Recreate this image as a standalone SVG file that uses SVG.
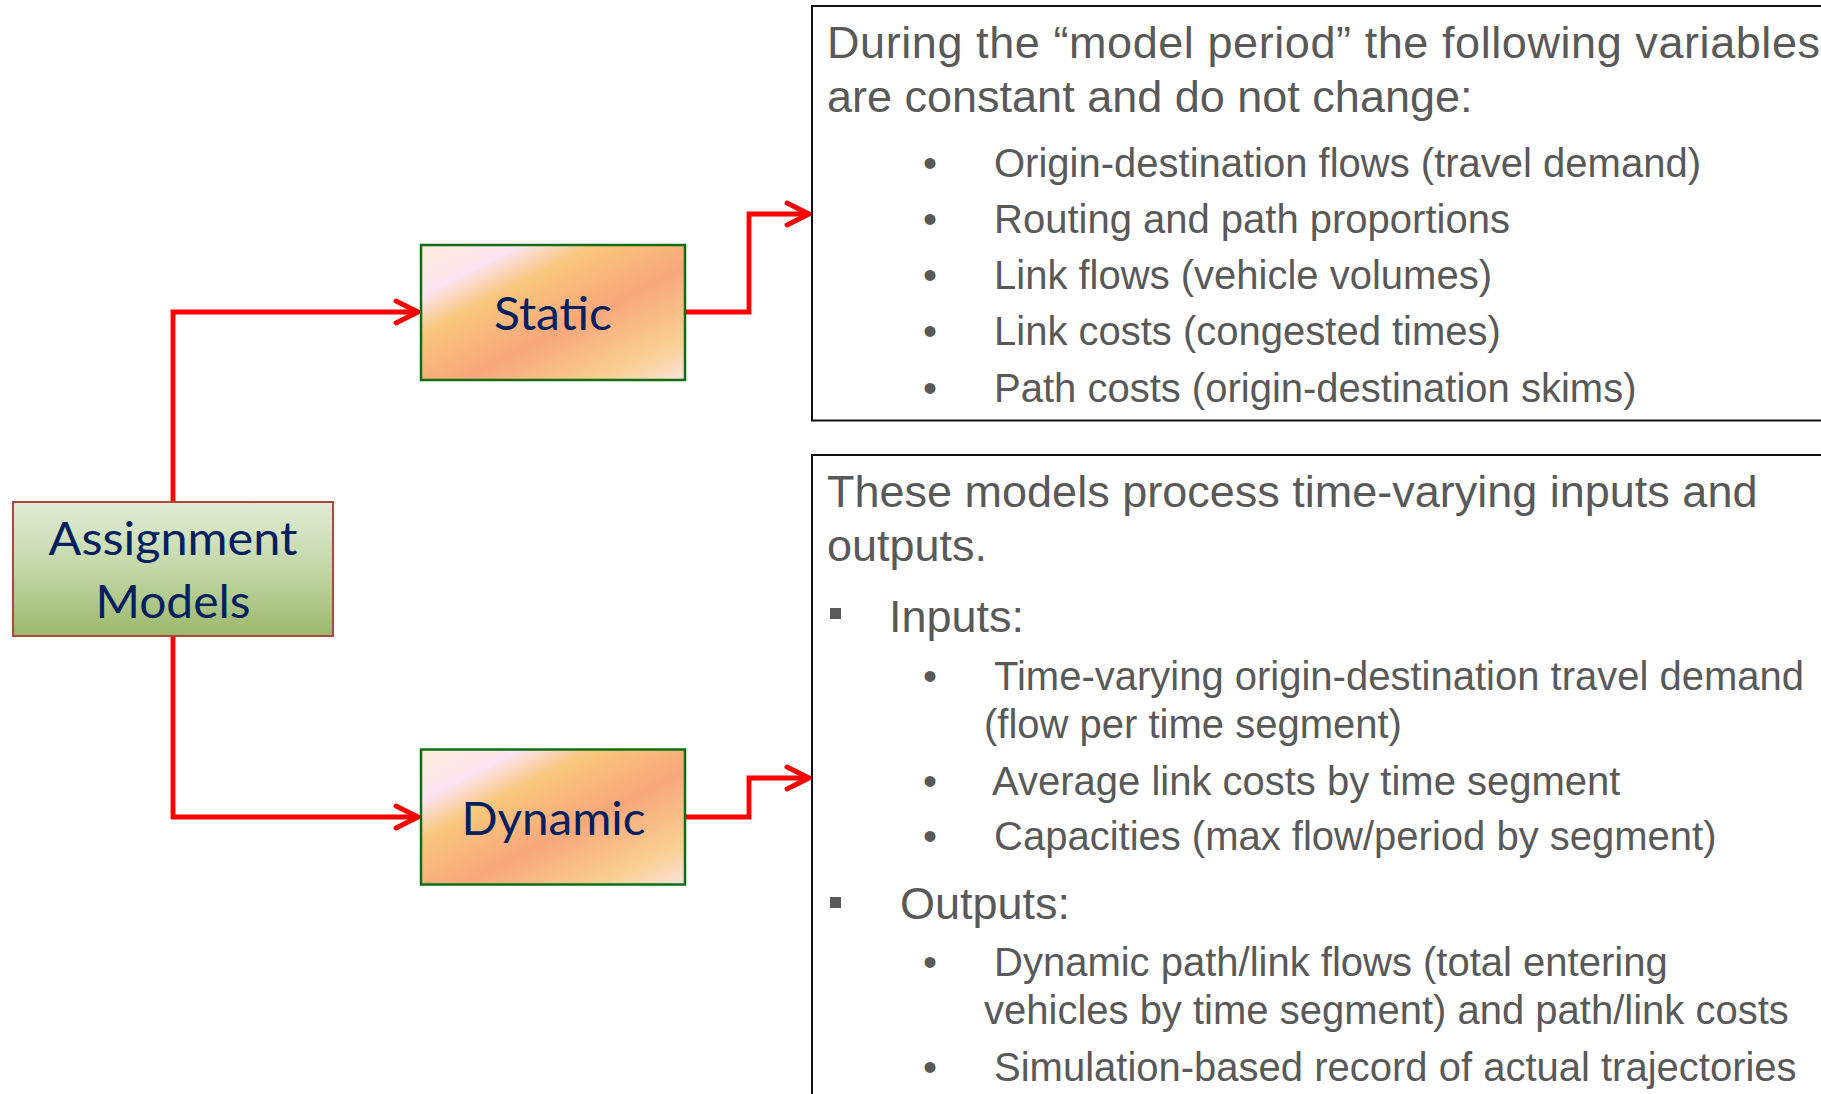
<svg xmlns="http://www.w3.org/2000/svg" width="1821" height="1094" viewBox="0 0 1821 1094">
  <defs>
    <linearGradient id="gradGreen" x1="0" y1="0" x2="0" y2="1">
      <stop offset="0" stop-color="#e1ecd6"/>
      <stop offset="0.5" stop-color="#c3d7a6"/>
      <stop offset="1" stop-color="#9bb86a"/>
    </linearGradient>
    <linearGradient id="gradPeach" x1="0" y1="0" x2="1" y2="1">
      <stop offset="0" stop-color="#fbecd8"/>
      <stop offset="0.19" stop-color="#fbe4f1"/>
      <stop offset="0.33" stop-color="#f8c77c"/>
      <stop offset="0.58" stop-color="#f8a77b"/>
      <stop offset="0.84" stop-color="#f9cf91"/>
      <stop offset="1" stop-color="#fde3df"/>
    </linearGradient>
    <marker id="arrow" markerUnits="userSpaceOnUse" markerWidth="40" markerHeight="40" viewBox="-30 -20 40 40" refX="0" refY="0" orient="auto">
      <path d="M-22,-11 L0,0 L-22,11" fill="none" stroke="#ff0000" stroke-width="4.8" stroke-linecap="round" stroke-linejoin="round"/>
    </marker>
    <style>
      .conn { fill: none; stroke: #ff0000; stroke-width: 4.8; stroke-linejoin: miter; marker-end: url(#arrow); }
      .panel { fill: #ffffff; stroke: #111111; stroke-width: 2; }
      .root { fill: url(#gradGreen); stroke: #b3443f; stroke-width: 2; }
      .kind { fill: url(#gradPeach); stroke: #0d6e14; stroke-width: 2.5; }
      .label { font-family: Lato, "Open Sans", sans-serif; font-size: 46px; fill: #002060; text-anchor: middle; }
      .head { font-family: "Liberation Sans", Arial, sans-serif; font-size: 45px; fill: #595959; }
      .item { font-family: "Liberation Sans", Arial, sans-serif; font-size: 40px; fill: #595959; }
      .dot { font-family: "Liberation Sans", Arial, sans-serif; font-size: 40px; fill: #595959; text-anchor: middle; }
      .sq { fill: #595959; }
    </style>
  </defs>

  <rect width="1821" height="1094" fill="#ffffff"/>

  <!-- connectors -->
  <g id="connectors">
    <path class="conn" d="M173,502 V312 H418"/>
    <path class="conn" d="M173,636 V817 H418"/>
    <path class="conn" d="M685,312 H749 V214 H809"/>
    <path class="conn" d="M685,817 H749 V778 H809"/>
  </g>

  <!-- root node -->
  <g id="assignment-models">
    <rect class="root" x="13" y="502" width="320" height="134"/>
    <text class="label" x="173" y="555" textLength="249" lengthAdjust="spacingAndGlyphs">Assignment</text>
    <text class="label" x="173" y="618" textLength="155" lengthAdjust="spacingAndGlyphs">Models</text>
  </g>

  <g id="static">
    <rect class="kind" x="421" y="245" width="264" height="135"/>
    <text class="label" x="553" y="330" textLength="118" lengthAdjust="spacingAndGlyphs">Static</text>
  </g>

  <g id="dynamic">
    <rect class="kind" x="421" y="749.5" width="264" height="135"/>
    <text class="label" x="553.5" y="835" textLength="184" lengthAdjust="spacingAndGlyphs">Dynamic</text>
  </g>

  <!-- static description panel -->
  <g id="static-notes">
    <rect class="panel" x="812" y="6" width="1100" height="414.5"/>
    <text class="head" x="827" y="58" textLength="993" lengthAdjust="spacing">During the “model period” the following variables</text>
    <text class="head" x="827" y="112">are constant and do not change:</text>
    <text class="dot" x="930" y="177">•</text>
    <text class="item" x="994" y="177">Origin-destination flows (travel demand)</text>
    <text class="dot" x="930" y="233">•</text>
    <text class="item" x="994" y="233">Routing and path proportions</text>
    <text class="dot" x="930" y="289">•</text>
    <text class="item" x="994" y="289">Link flows (vehicle volumes)</text>
    <text class="dot" x="930" y="345">•</text>
    <text class="item" x="994" y="345">Link costs (congested times)</text>
    <text class="dot" x="930" y="402">•</text>
    <text class="item" x="994" y="402">Path costs (origin-destination skims)</text>
  </g>

  <!-- dynamic description panel -->
  <g id="dynamic-notes">
    <rect class="panel" x="812" y="455" width="1100" height="700"/>
    <text class="head" x="827" y="507">These models process time-varying inputs and</text>
    <text class="head" x="827" y="561">outputs.</text>
    <rect class="sq" x="830" y="608" width="11" height="11"/>
    <text class="head" x="889" y="632">Inputs:</text>
    <text class="dot" x="930" y="690">•</text>
    <text class="item" x="994" y="690">Time-varying origin-destination travel demand</text>
    <text class="item" x="984" y="738">(flow per time segment)</text>
    <text class="dot" x="930" y="795">•</text>
    <text class="item" x="992" y="795">Average link costs by time segment</text>
    <text class="dot" x="930" y="850">•</text>
    <text class="item" x="994" y="850">Capacities (max flow/period by segment)</text>
    <rect class="sq" x="830" y="897" width="11" height="11"/>
    <text class="head" x="900" y="919">Outputs:</text>
    <text class="dot" x="930" y="976">•</text>
    <text class="item" x="994" y="976">Dynamic path/link flows (total entering</text>
    <text class="item" x="984" y="1024">vehicles by time segment) and path/link costs</text>
    <text class="dot" x="930" y="1081">•</text>
    <text class="item" x="994" y="1081">Simulation-based record of actual trajectories</text>
  </g>
</svg>
